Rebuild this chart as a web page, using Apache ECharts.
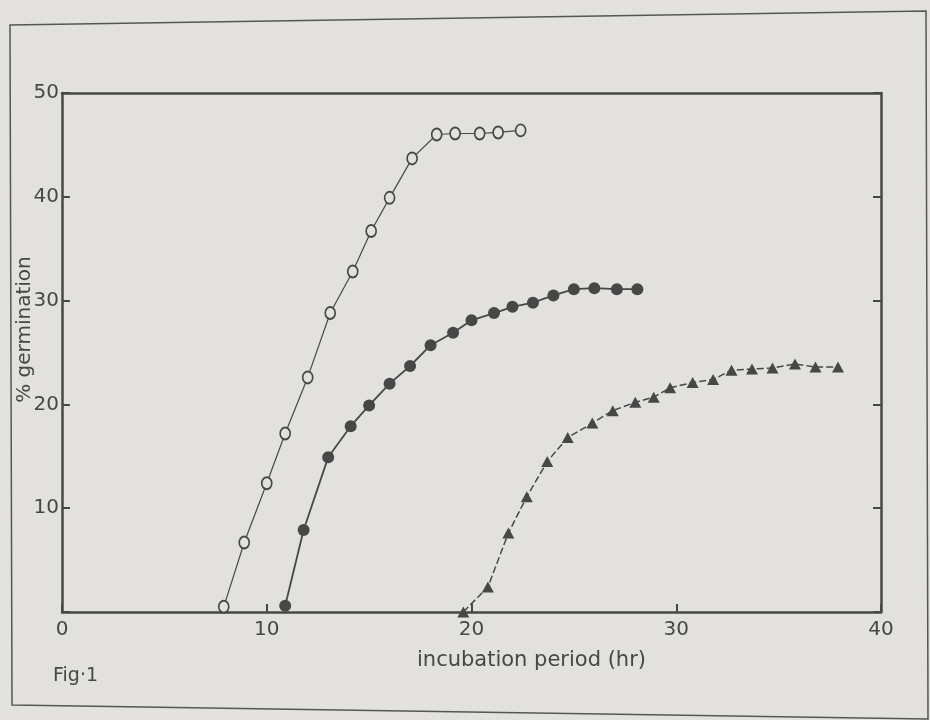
<!DOCTYPE html>
<html>
<head>
<meta charset="utf-8">
<style>
html,body{margin:0;padding:0;background:#e2e1dd;}
#c{width:930px;height:720px;}
</style>
<script src="https://cdn.jsdelivr.net/npm/echarts@6/dist/echarts.min.js"></script>
</head>
<body>
<div id="c"></div>
<script>
// ---- data ----
const xTickValues = [0, 10, 20, 30, 40];
const yTickValues = [10, 20, 30, 40, 50];

const openX = [7.9, 8.9, 10.0, 10.9, 12.0, 13.1, 14.2, 15.1, 16.0, 17.1, 18.3, 19.2, 20.4, 21.3, 22.4];
const openY = [0.5, 6.7, 12.4, 17.2, 22.6, 28.8, 32.8, 36.7, 39.9, 43.7, 46.0, 46.1, 46.1, 46.2, 46.4];

const filledX = [10.9, 11.8, 13.0, 14.1, 15.0, 16.0, 17.0, 18.0, 19.1, 20.0, 21.1, 22.0, 23.0, 24.0, 25.0, 26.0, 27.1, 28.1];
const filledY = [0.6, 7.9, 14.9, 17.9, 19.9, 22.0, 23.7, 25.7, 26.9, 28.1, 28.8, 29.4, 29.8, 30.5, 31.1, 31.2, 31.1, 31.1];

const triX = [19.6, 20.8, 21.8, 22.7, 23.7, 24.7, 25.9, 26.9, 28.0, 28.9, 29.7, 30.8, 31.8, 32.7, 33.7, 34.7, 35.8, 36.8, 37.9];
const triY = [0, 2.4, 7.6, 11.1, 14.5, 16.8, 18.2, 19.4, 20.2, 20.7, 21.6, 22.1, 22.4, 23.3, 23.4, 23.5, 23.9, 23.6, 23.6];

const xName = 'incubation period (hr)';
const yName = '% germination';
const figLabel = 'Fig\u00b71';

// ---- styling ----
const ink = '#474747';
const bg = '#e2e1dd';
const font = 'DejaVu Sans';

function pairs(xs, ys) { return xs.map((x, i) => [x, ys[i]]); }

const axisLineStyle = { show: true, onZero: false, lineStyle: { color: ink, width: 2.5 } };
const tickStyle = { show: true, inside: true, length: 8, lineStyle: { color: ink, width: 2 } };

const chart = echarts.init(document.getElementById('c'), null, { renderer: 'canvas' });
chart.setOption({
  animation: false,
  backgroundColor: bg,
  grid: { left: 62, right: 49, top: 93, bottom: 108, containLabel: false, outerBoundsMode: 'none' },
  xAxis: [
    {
      type: 'value', min: 0, max: 40, interval: 10, position: 'bottom',
      axisLine: axisLineStyle, axisTick: tickStyle,
      axisLabel: { fontSize: 20, color: ink, margin: 8, fontFamily: font,
        formatter: v => xTickValues.includes(v) ? String(v) : '' },
      splitLine: { show: false },
      name: xName, nameLocation: 'middle', nameGap: 38, nameMoveOverlap: false,
      nameTextStyle: { fontSize: 21, color: ink, fontFamily: font, padding: [0, 0, 0, 120] }
    },
    {
      type: 'value', min: 0, max: 40, interval: 10, position: 'top',
      axisLine: axisLineStyle, axisTick: { show: false }, axisLabel: { show: false },
      splitLine: { show: false }
    }
  ],
  yAxis: [
    {
      type: 'value', min: 0, max: 50, interval: 10, position: 'left',
      axisLine: axisLineStyle, axisTick: tickStyle,
      axisLabel: { fontSize: 20, color: ink, margin: 3, fontFamily: font,
        formatter: v => yTickValues.includes(v) ? String(v) : '' },
      splitLine: { show: false },
      name: yName, nameLocation: 'middle', nameGap: 27, nameRotate: 90, nameMoveOverlap: false,
      nameTextStyle: { fontSize: 20, color: ink, fontFamily: font, padding: [0, 0, 0, 46] }
    },
    {
      type: 'value', min: 0, max: 50, interval: 10, position: 'right',
      axisLine: axisLineStyle, axisTick: tickStyle, axisLabel: { show: false },
      splitLine: { show: false }
    }
  ],
  series: [
    {
      type: 'line', xAxisIndex: 0, yAxisIndex: 0,
      data: pairs(openX, openY),
      symbol: 'circle', symbolSize: [10, 12],
      itemStyle: { color: bg, borderColor: ink, borderWidth: 1.8 },
      lineStyle: { color: ink, width: 1.2 },
      z: 3
    },
    {
      type: 'line', xAxisIndex: 0, yAxisIndex: 0,
      data: pairs(filledX, filledY),
      symbol: 'circle', symbolSize: 12,
      itemStyle: { color: ink, borderWidth: 0 },
      lineStyle: { color: ink, width: 1.8 },
      z: 3
    },
    {
      type: 'line', xAxisIndex: 0, yAxisIndex: 0,
      data: pairs(triX, triY),
      symbol: 'triangle', symbolSize: [12, 11],
      itemStyle: { color: ink, borderWidth: 0 },
      lineStyle: { color: ink, width: 1.5, type: [7, 3] },
      z: 3
    }
  ],
  graphic: [
    {
      type: 'polygon', silent: true,
      shape: { points: [[10, 25], [926, 11], [928, 719], [12, 705]] },
      style: { fill: null, stroke: '#555', lineWidth: 1.5 }
    },
    {
      type: 'text', left: 53, top: 667,
      style: { text: figLabel, fontSize: 19, fill: ink, fontFamily: font }
    }
  ]
});
</script>
</body>
</html>
